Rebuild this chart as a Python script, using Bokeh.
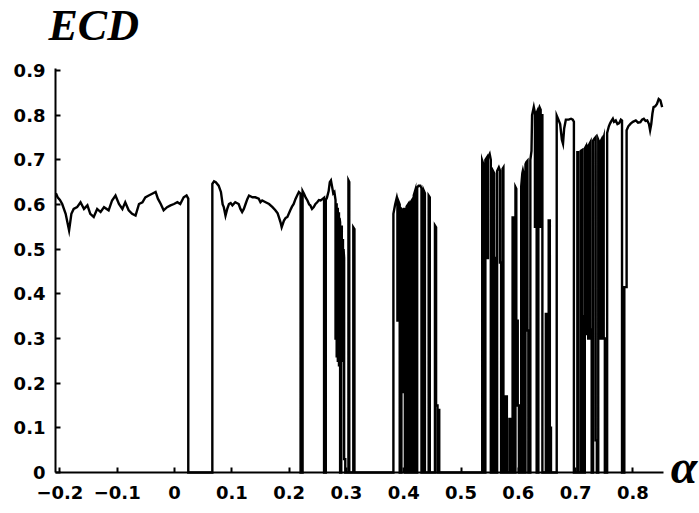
from bokeh.plotting import figure
from bokeh.models import Range1d, FixedTicker, Label
from bokeh.embed import file_html
from bokeh.resources import INLINE

# ---- tick values and labels ----
x_ticks = [-0.2, -0.1, 0.0, 0.1, 0.2, 0.3, 0.4, 0.5, 0.6, 0.7, 0.8]
x_tick_labels = ["−0.2", "−0.1", "0", "0.1", "0.2", "0.3", "0.4", "0.5", "0.6", "0.7", "0.8"]
y_ticks = [0.0, 0.1, 0.2, 0.3, 0.4, 0.5, 0.6, 0.7, 0.8, 0.9]
y_tick_labels = ["0", "0.1", "0.2", "0.3", "0.4", "0.5", "0.6", "0.7", "0.8", "0.9"]

title_text = "ECD"
x_name = "α"

# ---- data (alpha, ECD), by section ----
seg1 = [(-0.207, 0.625), (-0.204, 0.616), (-0.200, 0.610), (-0.196, 0.601), (-0.190, 0.579),
        (-0.184, 0.542), (-0.180, 0.579), (-0.176, 0.590), (-0.170, 0.594), (-0.164, 0.605),
        (-0.158, 0.590), (-0.152, 0.598), (-0.147, 0.579), (-0.141, 0.572), (-0.135, 0.590),
        (-0.129, 0.583), (-0.123, 0.594), (-0.115, 0.587), (-0.109, 0.609), (-0.103, 0.620),
        (-0.097, 0.601), (-0.091, 0.590), (-0.086, 0.605), (-0.080, 0.587), (-0.074, 0.579),
        (-0.068, 0.575), (-0.062, 0.601), (-0.056, 0.605), (-0.051, 0.616), (-0.045, 0.620),
        (-0.039, 0.624), (-0.033, 0.628), (-0.029, 0.613), (-0.024, 0.601), (-0.019, 0.587),
        (-0.013, 0.594), (-0.007, 0.598), (-0.001, 0.601), (0.005, 0.605), (0.010, 0.601),
        (0.016, 0.616), (0.021, 0.620), (0.024, 0.613), (0.024, 0.0)]

seg2 = [(0.066, 0.0), (0.066, 0.646), (0.069, 0.652), (0.072, 0.650), (0.077, 0.642),
        (0.081, 0.628), (0.084, 0.600), (0.086, 0.594), (0.089, 0.575), (0.092, 0.590),
        (0.095, 0.601), (0.098, 0.603), (0.101, 0.598), (0.106, 0.605), (0.112, 0.601),
        (0.115, 0.590), (0.118, 0.583), (0.121, 0.590), (0.124, 0.601), (0.127, 0.612),
        (0.130, 0.620), (0.136, 0.616), (0.141, 0.616), (0.147, 0.613), (0.150, 0.605),
        (0.153, 0.609), (0.159, 0.605), (0.165, 0.601), (0.171, 0.594), (0.176, 0.587),
        (0.180, 0.580), (0.182, 0.572), (0.185, 0.560), (0.187, 0.549), (0.191, 0.564),
        (0.194, 0.570), (0.197, 0.572), (0.202, 0.587), (0.205, 0.595), (0.208, 0.601),
        (0.211, 0.612), (0.214, 0.620), (0.217, 0.628), (0.220, 0.624), (0.220, 0.0),
        (0.2235, 0.0), (0.2235, 0.630), (0.226, 0.624), (0.229, 0.615), (0.232, 0.609),
        (0.235, 0.600), (0.237, 0.598), (0.240, 0.590), (0.243, 0.594), (0.246, 0.601),
        (0.249, 0.605), (0.252, 0.610), (0.255, 0.609), (0.258, 0.612), (0.261, 0.615),
        (0.261, 0.0), (0.264, 0.0), (0.264, 0.610), (0.266, 0.615), (0.269, 0.630),
        (0.271, 0.650), (0.273, 0.654), (0.275, 0.640), (0.277, 0.625), (0.279, 0.628),
        (0.281, 0.610), (0.281, 0.30), (0.282, 0.30), (0.282, 0.60), (0.283, 0.60),
        (0.283, 0.26), (0.284, 0.26), (0.284, 0.59), (0.285, 0.59), (0.285, 0.25),
        (0.286, 0.25), (0.286, 0.58), (0.287, 0.58), (0.287, 0.24), (0.288, 0.24),
        (0.288, 0.57), (0.289, 0.56), (0.289, 0.0), (0.291, 0.0), (0.291, 0.55),
        (0.292, 0.55), (0.292, 0.27), (0.293, 0.27), (0.293, 0.52), (0.294, 0.52),
        (0.294, 0.25), (0.295, 0.25), (0.295, 0.50), (0.296, 0.48), (0.296, 0.03),
        (0.298, 0.03), (0.298, 0.0), (0.3035, 0.0), (0.3035, 0.654), (0.305, 0.650),
        (0.305, 0.0), (0.312, 0.0), (0.312, 0.549), (0.314, 0.545), (0.314, 0.0)]

seg3 = [(0.382, 0.0), (0.382, 0.579), (0.385, 0.600), (0.388, 0.616), (0.389, 0.610),
        (0.389, 0.34), (0.3915, 0.34), (0.3915, 0.605), (0.393, 0.600), (0.393, 0.0),
        (0.396, 0.0), (0.396, 0.59), (0.398, 0.587), (0.398, 0.18), (0.4005, 0.18),
        (0.4005, 0.59), (0.402, 0.59), (0.402, 0.0), (0.405, 0.0), (0.405, 0.595),
        (0.408, 0.601), (0.408, 0.0), (0.412, 0.0), (0.412, 0.605), (0.414, 0.609),
        (0.414, 0.0), (0.4175, 0.0), (0.4175, 0.62), (0.420, 0.631), (0.420, 0.0),
        (0.4235, 0.0), (0.4235, 0.638), (0.426, 0.642), (0.429, 0.642), (0.431, 0.636),
        (0.431, 0.0), (0.435, 0.0), (0.435, 0.631), (0.437, 0.625), (0.437, 0.0),
        (0.4435, 0.0), (0.4435, 0.620), (0.4455, 0.616), (0.4455, 0.0), (0.4545, 0.0),
        (0.4545, 0.553), (0.4565, 0.549), (0.4565, 0.15), (0.459, 0.15), (0.459, 0.0),
        (0.460, 0.0), (0.460, 0.14), (0.462, 0.14), (0.462, 0.0)]

seg4 = [(0.537, 0.0), (0.537, 0.698), (0.539, 0.690), (0.539, 0.0), (0.5425, 0.0),
        (0.5425, 0.700), (0.545, 0.705), (0.545, 0.48), (0.547, 0.48), (0.547, 0.705),
        (0.550, 0.713), (0.552, 0.700), (0.552, 0.0), (0.5555, 0.0), (0.5555, 0.676),
        (0.558, 0.670), (0.558, 0.48), (0.5595, 0.48), (0.5595, 0.0), (0.563, 0.0),
        (0.563, 0.675), (0.566, 0.683), (0.568, 0.676), (0.568, 0.47), (0.570, 0.47),
        (0.570, 0.0), (0.5725, 0.0), (0.5725, 0.680), (0.574, 0.683), (0.574, 0.0),
        (0.577, 0.0), (0.577, 0.17), (0.580, 0.17), (0.580, 0.0), (0.5845, 0.0),
        (0.5845, 0.12), (0.587, 0.12), (0.587, 0.0), (0.590, 0.0), (0.590, 0.571),
        (0.5915, 0.571), (0.5915, 0.0), (0.595, 0.0), (0.595, 0.639), (0.5965, 0.635),
        (0.5965, 0.34), (0.599, 0.34), (0.599, 0.15), (0.601, 0.15), (0.601, 0.0),
        (0.605, 0.0), (0.605, 0.640), (0.607, 0.670), (0.608, 0.676), (0.609, 0.670),
        (0.609, 0.0), (0.6125, 0.0), (0.6125, 0.690), (0.614, 0.695), (0.616, 0.698),
        (0.616, 0.318), (0.6175, 0.318), (0.6175, 0.0), (0.621, 0.0), (0.621, 0.700),
        (0.623, 0.720), (0.624, 0.800), (0.627, 0.818), (0.629, 0.805), (0.629, 0.55),
        (0.6305, 0.55), (0.6305, 0.800), (0.632, 0.805), (0.632, 0.0), (0.635, 0.0),
        (0.635, 0.810), (0.637, 0.818), (0.639, 0.812), (0.639, 0.55), (0.6405, 0.55),
        (0.6405, 0.800), (0.642, 0.800), (0.642, 0.0), (0.648, 0.0), (0.648, 0.355),
        (0.650, 0.355), (0.650, 0.0), (0.653, 0.0), (0.653, 0.564), (0.655, 0.564),
        (0.655, 0.10), (0.657, 0.10), (0.657, 0.0), (0.667, 0.0), (0.667, 0.799),
        (0.670, 0.790), (0.673, 0.780), (0.676, 0.745), (0.678, 0.736), (0.680, 0.770),
        (0.683, 0.790), (0.688, 0.790), (0.692, 0.792), (0.695, 0.790), (0.697, 0.785),
        (0.697, 0.0), (0.703, 0.0), (0.703, 0.717), (0.7045, 0.717), (0.7045, 0.0),
        (0.709, 0.0), (0.709, 0.720), (0.7115, 0.722), (0.7115, 0.35), (0.713, 0.35),
        (0.713, 0.0), (0.716, 0.0), (0.716, 0.725), (0.718, 0.730), (0.718, 0.31),
        (0.720, 0.31), (0.720, 0.730), (0.722, 0.732), (0.722, 0.30), (0.724, 0.30),
        (0.724, 0.735), (0.726, 0.740), (0.726, 0.32), (0.728, 0.32), (0.728, 0.0),
        (0.7305, 0.0), (0.7305, 0.743), (0.733, 0.748), (0.735, 0.751), (0.735, 0.072),
        (0.737, 0.072), (0.737, 0.0), (0.7395, 0.0), (0.7395, 0.745), (0.741, 0.740),
        (0.741, 0.30), (0.743, 0.30), (0.743, 0.740), (0.745, 0.745), (0.745, 0.30),
        (0.747, 0.30), (0.747, 0.740), (0.749, 0.750), (0.749, 0.30), (0.751, 0.30),
        (0.751, 0.0), (0.755, 0.0), (0.755, 0.760), (0.758, 0.775), (0.760, 0.781),
        (0.762, 0.786), (0.765, 0.792), (0.767, 0.785), (0.770, 0.788), (0.773, 0.780),
        (0.776, 0.782), (0.779, 0.790), (0.781, 0.788), (0.781, 0.0), (0.785, 0.0),
        (0.785, 0.415), (0.789, 0.415), (0.789, 0.766), (0.792, 0.775), (0.796, 0.781),
        (0.800, 0.785), (0.805, 0.788), (0.809, 0.783), (0.813, 0.784), (0.816, 0.790),
        (0.819, 0.792), (0.822, 0.787), (0.825, 0.788), (0.828, 0.780), (0.830, 0.766),
        (0.832, 0.780), (0.834, 0.803), (0.836, 0.818), (0.839, 0.820), (0.842, 0.825),
        (0.845, 0.836), (0.848, 0.833), (0.851, 0.818)]

segments = [seg1, seg2, seg3, seg4]
alpha = [a for seg in segments for a, _ in seg]
ecd = [e for seg in segments for _, e in seg]

# ---- figure ----
p = figure(width=699, height=513,
           x_range=Range1d(-0.3037, 0.9162), y_range=Range1d(-0.0918, 1.0566),
           output_backend="svg", toolbar_location=None,
           min_border_left=0, min_border_right=0,
           min_border_top=0, min_border_bottom=0)
p.background_fill_color = "white"
p.border_fill_color = "white"
p.outline_line_color = None
p.xgrid.visible = False
p.ygrid.visible = False

p.line(alpha, ecd, line_color="black", line_width=2.4, line_join="miter")

tick_font = "DejaVu Sans"
xa = p.xaxis[0]
xa.ticker = FixedTicker(ticks=x_ticks)
xa.major_label_overrides = {t: l for t, l in zip(x_ticks, x_tick_labels)}
xa.fixed_location = 0
xa.bounds = (-0.2077, 0.853)
ya = p.yaxis[0]
ya.ticker = FixedTicker(ticks=y_ticks)
ya.major_label_overrides = {t: l for t, l in zip(y_ticks, y_tick_labels)}
ya.fixed_location = -0.2077
ya.bounds = (0.0, 0.905)
for ax in (xa, ya):
    ax.axis_line_color = "black"
    ax.axis_line_width = 2
    ax.major_tick_in = 5
    ax.major_tick_out = 0
    ax.major_tick_line_width = 2
    ax.major_tick_line_color = "black"
    ax.minor_tick_line_color = None
    ax.major_label_text_font = tick_font
    ax.major_label_text_font_style = "bold"
    ax.major_label_text_font_size = "18px"
    ax.major_label_text_color = "black"
xa.major_label_standoff = 14
ya.major_label_standoff = 10

p.add_layout(Label(x=-0.2199, y=1.0008, text=title_text,
                   text_font="Liberation Serif", text_font_style="bold italic",
                   text_font_size="44px", text_color="black",
                   text_align="left", text_baseline="alphabetic"))
p.add_layout(Label(x=0.866, y=0.0134, text=x_name,
                   text_font="Liberation Serif", text_font_style="bold italic",
                   text_font_size="48px", text_color="black",
                   text_align="left", text_baseline="alphabetic"))

open("out.html", "w").write(file_html(p, INLINE))
